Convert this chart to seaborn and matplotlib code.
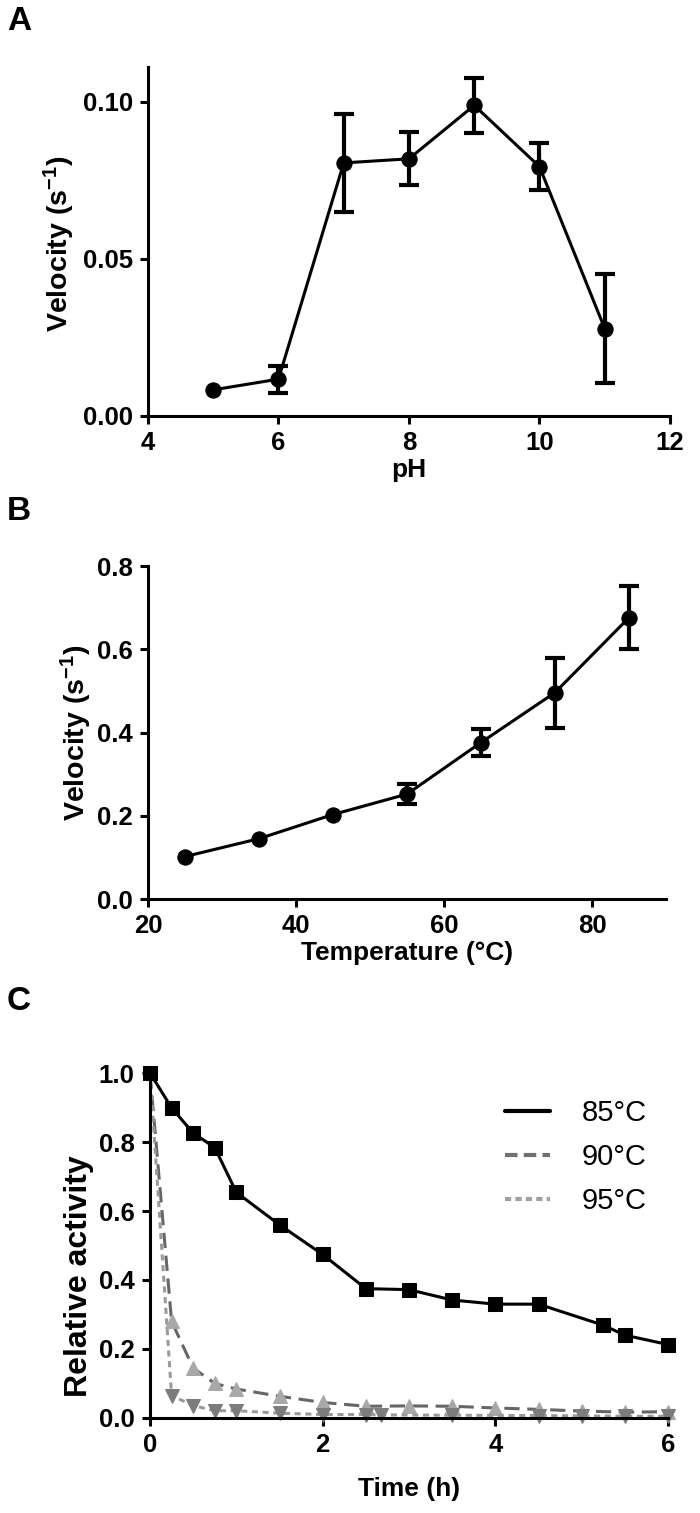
import matplotlib
matplotlib.use("Agg")
import matplotlib.pyplot as plt
from matplotlib.lines import Line2D
import seaborn as sns

# Panel A: velocity vs pH
ph = [5, 6, 7, 8, 9, 10, 11]
ph_vel = [0.0083, 0.0117, 0.0805, 0.0818, 0.0988, 0.0793, 0.0278]
ph_err = [0.0, 0.0043, 0.0155, 0.0084, 0.0088, 0.0075, 0.0174]

# Panel B: velocity vs temperature
temp = [25, 35, 45, 55, 65, 75, 85]
temp_vel = [0.102, 0.145, 0.203, 0.252, 0.376, 0.496, 0.676]
temp_err = [0.0, 0.0, 0.0, 0.024, 0.033, 0.084, 0.076]

# Panel C: thermal stability
t85 = [0, 0.25, 0.5, 0.75, 1, 1.5, 2, 2.5, 3, 3.5, 4, 4.5, 5.25, 5.5, 6]
act85 = [1.0, 0.899, 0.826, 0.784, 0.654, 0.560, 0.474, 0.375, 0.372, 0.342, 0.330, 0.330, 0.269, 0.240, 0.213]
t90 = [0, 0.25, 0.5, 0.75, 1, 1.5, 2, 2.5, 3, 3.5, 4, 4.5, 5, 5.5, 6]
act90 = [1.0, 0.28, 0.145, 0.10, 0.084, 0.063, 0.045, 0.034, 0.035, 0.034, 0.029, 0.025, 0.020, 0.017, 0.018]
t95 = [0, 0.25, 0.5, 0.75, 1, 1.5, 2, 2.5, 2.67, 3.5, 4.5, 5, 5.5, 6]
act95 = [1.0, 0.065, 0.036, 0.021, 0.021, 0.014, 0.010, 0.010, 0.009, 0.008, 0.007, 0.006, 0.005, 0.005]
legend_labels = ["85°C", "90°C", "95°C"]

sns.set_style("ticks")
plt.rcParams["font.family"] = ["Liberation Sans", "DejaVu Sans"]
plt.rcParams["text.color"] = "black"
plt.rcParams["axes.labelcolor"] = "black"
plt.rcParams["mathtext.fontset"] = "custom"
plt.rcParams["mathtext.rm"] = "Liberation Sans:bold"
plt.rcParams["mathtext.bf"] = "Liberation Sans:bold"
plt.rcParams["mathtext.default"] = "bf"

tick_font = ["Liberation Sans Narrow", "Liberation Sans", "DejaVu Sans"]
label_kw = dict(fontsize=19, fontweight="bold", color="black")

fig = plt.figure(figsize=(7, 15.13), dpi=100)
axA = fig.add_axes([0.2114, 0.7251, 0.7457, 0.2306])
axB = fig.add_axes([0.2114, 0.4058, 0.7400, 0.2201])
axC = fig.add_axes([0.2143, 0.0628, 0.7400, 0.2280])


def style_axis(ax):
    for side in ["top", "right"]:
        ax.spines[side].set_visible(False)
    for side in ["left", "bottom"]:
        ax.spines[side].set_linewidth(2.2)
        ax.spines[side].set_color("black")
    ax.tick_params(width=2.2, length=6, direction="out", colors="black", pad=5)
    for lab in ax.get_xticklabels() + ax.get_yticklabels():
        lab.set_fontfamily(tick_font)
        lab.set_fontweight("bold")
        lab.set_fontsize(18.5)


def add_errorbars(ax, xs, ys, errs):
    # only points that carry an error bar
    keep = [i for i, e in enumerate(errs) if e > 0]
    ax.errorbar([xs[i] for i in keep], [ys[i] for i in keep],
                yerr=[errs[i] for i in keep], fmt="none", ecolor="black",
                elinewidth=3, capsize=7, capthick=3, clip_on=False)


# --- A ---
sns.lineplot(x=ph, y=ph_vel, ax=axA, color="black", linewidth=2.2,
             marker="o", markersize=11, markeredgecolor="black", clip_on=False)
add_errorbars(axA, ph, ph_vel, ph_err)
axA.set_xlim(4, 12)
axA.set_ylim(0, 0.111)
axA.set_xticks([4, 6, 8, 10, 12])
axA.set_yticks([0.0, 0.05, 0.10])
axA.set_yticklabels(["0.00", "0.05", "0.10"])
axA.set_xlabel("pH", labelpad=2, **label_kw)
axA.set_ylabel(r"Velocity (s$^{-1}$)", fontsize=20.5, fontweight="bold")
axA.yaxis.set_label_coords(-0.136, 0.494)
style_axis(axA)

# --- B ---
sns.lineplot(x=temp, y=temp_vel, ax=axB, color="black", linewidth=2.2,
             marker="o", markersize=11, markeredgecolor="black", clip_on=False)
add_errorbars(axB, temp, temp_vel, temp_err)
axB.set_xlim(20, 90)
axB.set_ylim(0, 0.8)
axB.set_xticks([20, 40, 60, 80])
axB.set_yticks([0.0, 0.2, 0.4, 0.6, 0.8])
axB.set_yticklabels(["0.0", "0.2", "0.4", "0.6", "0.8"])
axB.set_xlabel("Temperature (°C)", labelpad=2, **label_kw)
axB.set_ylabel(r"Velocity (s$^{-1}$)", fontsize=20.5, fontweight="bold")
axB.yaxis.set_label_coords(-0.104, 0.5)
style_axis(axB)

# --- C ---
sns.lineplot(x=t90, y=act90, ax=axC, color="#666666", linewidth=2.2,
             linestyle=(0, (5, 2.5)), marker="^", markersize=9.5,
             markerfacecolor="#a8a8a8", markeredgecolor="#a8a8a8", clip_on=False)
sns.lineplot(x=t95, y=act95, ax=axC, color="#9a9a9a", linewidth=2.2,
             linestyle=(0, (2, 1.5)), marker="v", markersize=9.5,
             markerfacecolor="#7c7c7c", markeredgecolor="#7c7c7c", clip_on=False)
sns.lineplot(x=t85, y=act85, ax=axC, color="black", linewidth=2.2,
             marker="s", markersize=10.5, markeredgecolor="black", clip_on=False)
axC.set_xlim(0, 6)
axC.set_ylim(0, 1.0)
axC.set_xticks([0, 2, 4, 6])
axC.set_yticks([0.0, 0.2, 0.4, 0.6, 0.8, 1.0])
axC.set_yticklabels(["0.0", "0.2", "0.4", "0.6", "0.8", "1.0"])
axC.set_xlabel("Time (h)", labelpad=14, **label_kw)
axC.set_ylabel("Relative activity", fontsize=23, fontweight="bold")
axC.yaxis.set_label_coords(-0.108, 0.41)
style_axis(axC)

handles = [
    Line2D([], [], color="black", linewidth=3),
    Line2D([], [], color="#707070", linewidth=3, linestyle=(0, (3, 1.5))),
    Line2D([], [], color="#a0a0a0", linewidth=3, linestyle=(0, (1.5, 1))),
]
axC.legend(handles, legend_labels, loc="upper right", bbox_to_anchor=(1.01, 1.0),
           frameon=False, fontsize=21, handlelength=1.55, handletextpad=1.1,
           labelspacing=0.55)

# panel letters
for letter, ypos in [("A", 0.986), ("B", 0.662), ("C", 0.338)]:
    fig.text(0.01, ypos, letter, fontsize=24, fontweight="bold", color="black",
             va="center", ha="left")

fig.savefig("out.png", dpi=100)
